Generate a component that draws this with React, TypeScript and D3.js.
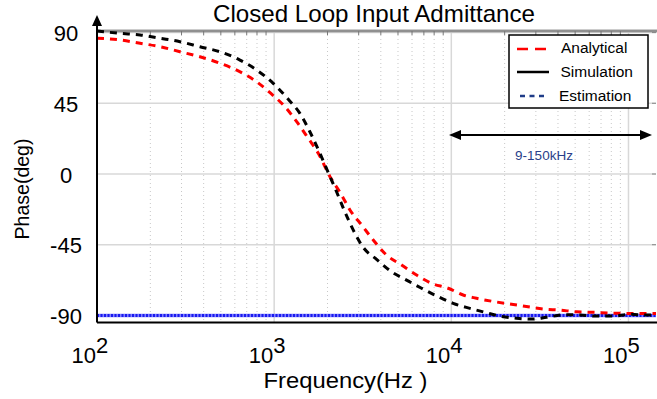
import React from "react";
import * as d3 from "d3";

const analyticalFreq = [100, 135, 175, 227, 294, 381, 494, 655, 796, 955, 1150, 1340, 1557, 1774, 2066, 2373, 2678, 3119, 3625, 4312, 5240, 6365, 7738, 9600, 11660, 13880, 17610, 21880, 27150, 32990, 40950, 50880, 63130, 78460, 97500, 120900, 143000];
const analyticalPhase = [86.4, 85.3, 83.2, 81.0, 77.8, 74.6, 70.5, 64.5, 58.7, 51.4, 42.8, 33.3, 22.7, 13.2, -1.7, -12.3, -22.9, -32.5, -42.0, -51.6, -57.9, -64.3, -69.6, -72.7, -77.0, -79.1, -81.3, -82.9, -84.5, -85.9, -86.6, -87.7, -88.0, -88.5, -88.7, -88.7, -88.7];

const simulationFreq = [100, 135, 175, 227, 294, 381, 494, 641, 796, 988, 1201, 1397, 1591, 1796, 1992, 2250, 2506, 2793, 3182, 3785, 4600, 5589, 6792, 8433, 10240, 12730, 15460, 18790, 23340, 28360, 34460, 43720, 53140, 66010, 81550, 101700, 126400, 143000];
const simulationPhase = [91.0, 89.5, 88.5, 86.4, 84.2, 81.0, 77.8, 72.5, 66.2, 57.7, 47.5, 38.6, 26.9, 14.2, 2.5, -11.3, -24.0, -35.6, -46.7, -54.3, -62.2, -67.5, -72.7, -78.1, -82.3, -85.5, -88.0, -90.4, -91.8, -92.3, -91.2, -89.5, -89.7, -90.4, -90.4, -89.3, -89.7, -89.7];

const estimationFreq = [100, 143000];
const estimationPhase = [-90, -90];

const yTicks = [90, 45, 0, -45, -90];
const xDecades = [2, 3, 4, 5];

const legendLabels = ["Analytical", "Simulation", "Estimation"];
const title = "Closed Loop Input Admittance";
const xLabel = "Frequency(Hz )";
const yLabel = "Phase(deg)";
const bandLabel = "9-150kHz";

const W = 657, H = 399;
const L = 97, R = 656, T = 31, B = 322.5;
const FONT = "'Liberation Sans', Arial, Helvetica, sans-serif";

export default function App() {
  const x = d3.scaleLog().domain([100, 143000]).range([L, R]);
  const y = d3.scaleLinear().domain([-94.5, 91]).range([B, T]);

  const mk = (fs: number[], ps: number[]) =>
    d3.line<number>().x((_, i) => x(fs[i])).y((_, i) => y(ps[i])).curve(d3.curveMonotoneX)(fs) || "";

  const minor: number[] = [];
  for (let e = 2; e <= 5; e++) for (let k = 2; k <= 9; k++) {
    const v = k * Math.pow(10, e);
    if (v < 143000) minor.push(v);
  }
  const majors = xDecades.map((e) => Math.pow(10, e)).filter((v) => v > 100);

  const arrowX1 = 449, arrowX2 = 652, arrowY = 135;

  return (
    <svg width={W} height={H} style={{ position: "absolute", left: 0, top: 0, background: "#fff" }} fontFamily={FONT}>
      <defs>
        <clipPath id="plotclip">
          <rect x={L} y={T - 2} width={R - L + 2} height={B - T + 2} />
        </clipPath>
      </defs>
      {minor.map((v, i) => (
        <line key={"m" + i} x1={x(v)} x2={x(v)} y1={T} y2={B} stroke="#c8c8c8" strokeWidth={1} strokeDasharray="1,3" />
      ))}
      {majors.map((v, i) => (
        <line key={"M" + i} x1={x(v)} x2={x(v)} y1={T} y2={B} stroke="#d8d8d8" strokeWidth={1.5} />
      ))}
      {yTicks.map((t, i) => (
        <line key={"h" + i} x1={L} x2={R} y1={y(t)} y2={y(t)} stroke="#d8d8d8" strokeWidth={1.5} />
      ))}
      <line x1={L} x2={W} y1={T} y2={T} stroke="#bbb" strokeWidth={3.5} />
      <line x1={L} x2={W} y1={T} y2={T} stroke="#666" strokeWidth={1.2} />
      {minor.map((v, i) => (
        <line key={"tt" + i} x1={x(v)} x2={x(v)} y1={T} y2={T + 4} stroke="#777" strokeWidth={1} />
      ))}
      {yTicks.map((t, i) => (
        <line key={"rt" + i} x1={R - 4} x2={R} y1={y(t)} y2={y(t)} stroke="#888" strokeWidth={1} />
      ))}

      <g clipPath="url(#plotclip)">
        <path d={mk(estimationFreq, estimationPhase)} fill="none" stroke="#8080ff" strokeWidth={3.5} />
        <path d={mk(estimationFreq, estimationPhase)} fill="none" stroke="#1a1aee" strokeWidth={3} strokeDasharray="2,1.5" />
        <path d={mk(analyticalFreq, analyticalPhase)} fill="none" stroke="#ff0000" strokeWidth={3} strokeDasharray="7,6" />
        <path d={mk(simulationFreq, simulationPhase)} fill="none" stroke="#000" strokeWidth={3} strokeDasharray="7,6" />
      </g>

      <line x1={L} x2={W} y1={B} y2={B} stroke="#000" strokeWidth={2} />
      <line x1={L} x2={L} y1={B} y2={24} stroke="#000" strokeWidth={2} />
      <path d={`M${L},15 L${L - 5},26 L${L + 5},26 Z`} fill="#000" />

      {yTicks.map((t, i) => (
        <text key={"yl" + i} x={66} y={y(t) + 1} textAnchor="middle" dominantBaseline="central" fontSize={22} fill="#000">
          {t}
        </text>
      ))}
      {xDecades.map((e, i) => {
        const px = x(Math.pow(10, e));
        return (
          <g key={"xl" + i}>
            <text x={px - 1} y={363} textAnchor="end" fontSize={22} fill="#000">10</text>
            <text x={px - 1} y={353} textAnchor="start" fontSize={22} fill="#000">{e}</text>
          </g>
        );
      })}

      <text x={374} y={22} textAnchor="middle" fontSize={24} fill="#000" textLength={322} lengthAdjust="spacingAndGlyphs">{title}</text>
      <text x={345.5} y={388} textAnchor="middle" fontSize={22.5} fill="#000" textLength={164} lengthAdjust="spacingAndGlyphs">{xLabel}</text>
      <text transform="translate(29,189) rotate(-90)" textAnchor="middle" fontSize={20} fill="#000" textLength={101} lengthAdjust="spacingAndGlyphs">{yLabel}</text>

      <line x1={arrowX1 + 8} x2={arrowX2 - 8} y1={arrowY} y2={arrowY} stroke="#000" strokeWidth={2} />
      <path d={`M${arrowX1},${arrowY} L${arrowX1 + 12},${arrowY - 5} L${arrowX1 + 12},${arrowY + 5} Z`} fill="#000" />
      <path d={`M${arrowX2},${arrowY} L${arrowX2 - 12},${arrowY - 5} L${arrowX2 - 12},${arrowY + 5} Z`} fill="#000" />
      <text x={544} y={160} textAnchor="middle" fontSize={13.5} fill="#2a3f8a">{bandLabel}</text>

      <rect x={509} y={35} width={139} height={73} fill="#fff" stroke="#000" strokeWidth={1.5} />
      <line x1={517} x2={549} y1={49} y2={49} stroke="#ff0000" strokeWidth={2.5} strokeDasharray="11,7" />
      <line x1={517} x2={549} y1={72} y2={72} stroke="#000" strokeWidth={2.5} />
      <line x1={520} x2={548} y1={96} y2={96} stroke="#1f3c88" strokeWidth={2.5} strokeDasharray="5,4.5" />
      {legendLabels.map((lab, i) => (
        <text key={"lg" + i} x={[561, 560.5, 559][i]} y={[47, 71, 95][i]} dominantBaseline="central" fontSize={15.5} fill="#000">
          {lab}
        </text>
      ))}
    </svg>
  );
}
